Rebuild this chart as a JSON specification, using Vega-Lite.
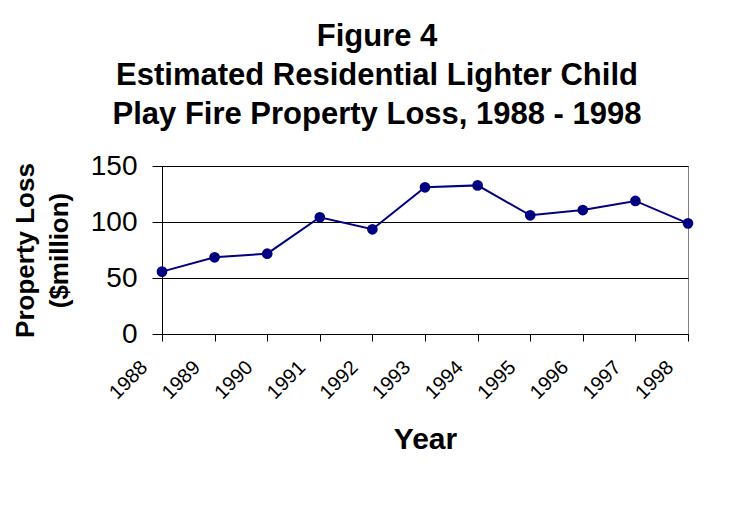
{
  "$schema": "https://vega.github.io/schema/vega-lite/v6.json",
  "width": 526,
  "height": 168,
  "autosize": {"type": "none"},
  "padding": {"left": 162, "top": 166, "right": 58, "bottom": 182},
  "background": "white",
  "title": {
    "text": ["Figure 4", "Estimated Residential Lighter Child", "Play Fire Property Loss, 1988 - 1998"],
    "font": "Liberation Sans",
    "fontSize": 31,
    "fontWeight": "bold",
    "lineHeight": 39,
    "color": "black",
    "anchor": "middle",
    "dx": -48,
    "offset": 21
  },
  "data": {
    "values": [
      {"year": "1988", "loss": 55.7},
      {"year": "1989", "loss": 68.5},
      {"year": "1990", "loss": 71.7},
      {"year": "1991", "loss": 104.2},
      {"year": "1992", "loss": 93.5},
      {"year": "1993", "loss": 131},
      {"year": "1994", "loss": 132.7},
      {"year": "1995", "loss": 106},
      {"year": "1996", "loss": 110.7},
      {"year": "1997", "loss": 118.8},
      {"year": "1998", "loss": 98.8}
    ]
  },
  "mark": {
    "type": "line",
    "color": "#000080",
    "strokeWidth": 2,
    "point": {"filled": true, "size": 115, "color": "#000080", "opacity": 1}
  },
  "encoding": {
    "x": {
      "field": "year",
      "type": "ordinal",
      "scale": {"type": "point", "padding": 0},
      "axis": {
        "title": "Year",
        "titleFontSize": 30,
        "titleFontWeight": "bold",
        "titlePadding": 22,
        "labelFontSize": 20,
        "labelAngle": -45,
        "labelAlign": "right",
        "labelBaseline": "middle",
        "labelPadding": 23,
        "labelOffset": -18,
        "tickSize": 7,
        "grid": false
      }
    },
    "y": {
      "field": "loss",
      "type": "quantitative",
      "scale": {"domain": [0, 150], "nice": false},
      "axis": {
        "title": ["Property Loss", "($million)"],
        "titleFontSize": 26,
        "titleFontWeight": "bold",
        "titleLineHeight": 34,
        "titlePadding": 18,
        "values": [0, 50, 100, 150],
        "labelFontSize": 28,
        "labelPadding": 15,
        "tickSize": 10,
        "grid": true
      }
    }
  },
  "config": {
    "font": "Liberation Sans",
    "view": {"stroke": "#808080", "strokeWidth": 1},
    "axis": {
      "labelFont": "Liberation Sans",
      "titleFont": "Liberation Sans",
      "labelColor": "black",
      "titleColor": "black",
      "domainColor": "black",
      "tickColor": "black",
      "gridColor": "black",
      "gridOpacity": 1,
      "domainWidth": 1,
      "tickWidth": 1,
      "gridWidth": 1,
      "labelOverlap": false
    }
  }
}
